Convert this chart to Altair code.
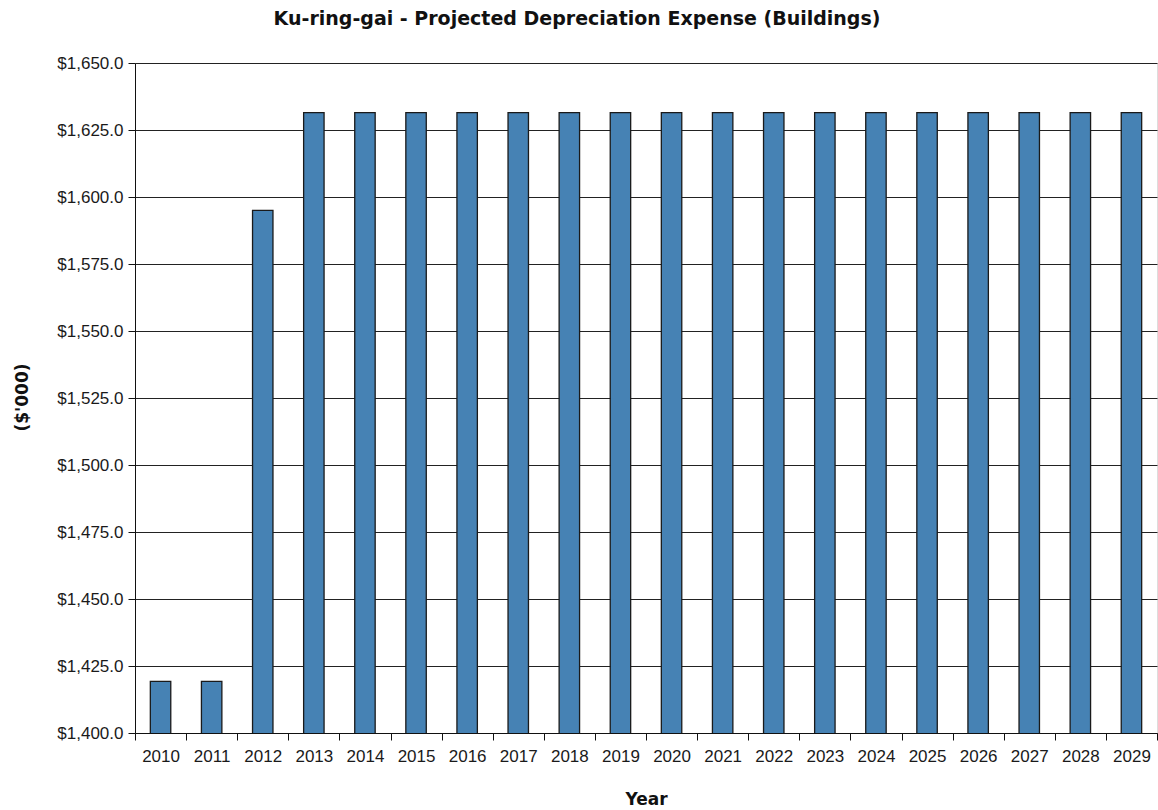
import altair as alt
import pandas as pd

# Projected annual depreciation expense for buildings, $'000
years = [str(y) for y in range(2010, 2030)]
expense = [1419.3, 1419.3, 1595.0] + [1631.5] * 17

df = pd.DataFrame({"Year": years, "Expense": expense})

label_font = "Liberation Sans"
title_font = "DejaVu Sans"

bars = (
    alt.Chart(df)
    .mark_bar(
        color="#4682B4",
        stroke="#1a1a1a",
        strokeWidth=1.3,
        width=alt.RelativeBandSize(0.4),
        clip=True,
    )
    .encode(
        x=alt.X(
            "Year:N",
            sort=years,
            scale=alt.Scale(paddingInner=0, paddingOuter=0),
            axis=alt.Axis(
                title="Year",
                labelAngle=0,
                tickBand="extent",
                tickSize=7,
                tickColor="#111",
                domainColor="#111",
                labelPadding=8,
                labelFont=label_font,
                labelFontSize=17,
                labelColor="#1a1a1a",
                titleFont=title_font,
                titleFontSize=17,
                titleFontWeight="bold",
                titleColor="#111",
                titleY=66,
                titleBaseline="middle",
            ),
        ),
        y=alt.Y(
            "Expense:Q",
            scale=alt.Scale(domain=[1400, 1650], nice=False, zero=False),
            axis=alt.Axis(
                title="($'000)",
                values=list(range(1400, 1651, 25)),
                format="$,.1f",
                grid=True,
                gridColor="#222",
                gridWidth=1,
                tickSize=7,
                tickColor="#111",
                domainColor="#111",
                labelPadding=5,
                labelFont=label_font,
                labelFontSize=17,
                labelColor="#1a1a1a",
                titleFont=title_font,
                titleFontSize=17,
                titleFontWeight="bold",
                titleColor="#111",
                titleAngle=270,
                titleAlign="center",
                titleBaseline="middle",
                titleX=-113,
                titleY=334,
            ),
        ),
    )
)

chart = (
    bars.properties(
        width=1022,
        height=670,
        title=alt.TitleParams(
            "Ku-ring-gai - Projected Depreciation Expense (Buildings)",
            font=title_font,
            fontSize=19,
            fontWeight="bold",
            color="#111",
            anchor="middle",
            frame="group",
            dx=-69,
            offset=25,
        ),
        autosize=alt.AutoSizeParams(type="none"),
        padding={"left": 135, "top": 63, "right": 1, "bottom": 77},
    )
    .configure_view(stroke="#222", strokeWidth=1)
    .configure(background="white")
)

chart.save("out.html", embed_options={"renderer": "svg", "actions": False})
